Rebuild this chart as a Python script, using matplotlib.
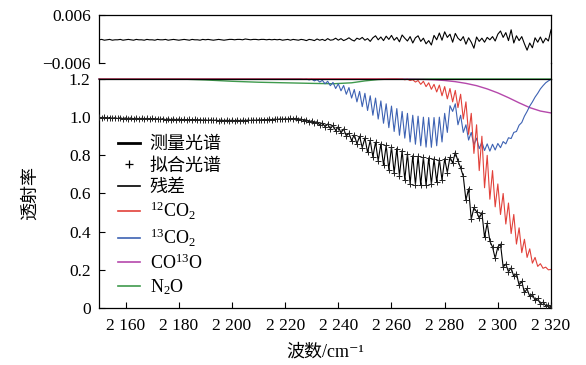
import numpy as np
import matplotlib
matplotlib.use('Agg')
import matplotlib.pyplot as plt
from matplotlib.lines import Line2D

plt.rcParams['font.family'] = ['Liberation Serif', 'Noto Sans CJK SC', 'DejaVu Sans']
plt.rcParams['mathtext.default'] = 'regular'

# measured transmittance, one value per cm-1 from 2150 to 2320
measured = [
    0.998, 0.995, 0.999, 0.994, 0.998, 0.994, 0.997, 0.993, 0.997, 0.992,
    0.996, 0.992, 0.996, 0.991, 0.995, 0.991, 0.994, 0.990, 0.994, 0.989,
    0.993, 0.989, 0.992, 0.988, 0.992, 0.987, 0.991, 0.987, 0.990, 0.986,
    0.990, 0.986, 0.989, 0.985, 0.988, 0.985, 0.988, 0.984, 0.987, 0.984,
    0.986, 0.983, 0.986, 0.983, 0.985, 0.982, 0.985, 0.982, 0.984, 0.982,
    0.984, 0.982, 0.984, 0.982, 0.984, 0.982, 0.985, 0.983, 0.985, 0.984,
    0.986, 0.985, 0.987, 0.986, 0.989, 0.987, 0.990, 0.988, 0.991, 0.989,
    0.992, 0.989, 0.993, 0.990, 0.994, 0.986, 0.991, 0.982, 0.987, 0.975,
    0.981, 0.968, 0.976, 0.958, 0.971, 0.950, 0.964, 0.940, 0.957, 0.930,
    0.950, 0.918, 0.938, 0.902, 0.916, 0.877, 0.908, 0.860, 0.900, 0.840,
    0.891, 0.815, 0.878, 0.792, 0.869, 0.771, 0.860, 0.749, 0.853, 0.725,
    0.845, 0.707, 0.836, 0.692, 0.825, 0.673, 0.809, 0.650, 0.798, 0.647,
    0.795, 0.644, 0.791, 0.643, 0.787, 0.648, 0.782, 0.660, 0.779, 0.670,
    0.782, 0.710, 0.790, 0.760, 0.815, 0.770, 0.735, 0.690, 0.565, 0.625,
    0.465, 0.525, 0.505, 0.470, 0.500, 0.370, 0.445, 0.350, 0.320, 0.260,
    0.320, 0.335, 0.215, 0.230, 0.190, 0.210, 0.165, 0.180, 0.120, 0.140,
    0.080, 0.100, 0.060, 0.072, 0.040, 0.050, 0.022, 0.030, 0.012, 0.016,
    0.005,
]

# residual (measured - fit), same grid
residual = [
    -0.0002, -0.0001, -0.0003, -0.0002, -0.0001, -0.0003, -0.0002, -0.0002, -0.0001, -0.0003,
    -0.0002, -0.0001, -0.0002, -0.0003, -0.0001, -0.0002, -0.0002, -0.0003, -0.0001, -0.0002,
    -0.0002, -0.0003, -0.0001, -0.0002, -0.0002, -0.0001, -0.0003, -0.0002, -0.0001, -0.0002,
    -0.0003, -0.0002, -0.0001, -0.0002, -0.0003, -0.0001, -0.0002, -0.0002, -0.0003, -0.0001,
    -0.0002, -0.0001, -0.0002, -0.0003, -0.0002, -0.0001, -0.0002, -0.0003, -0.0002, -0.0001,
    -0.0001, -0.0002, -0.0001, -0.0001, -0.0002, 0.0000, -0.0001, -0.0002, -0.0001, -0.0001,
    -0.0002, -0.0001, -0.0001, -0.0002, -0.0001, -0.0002, -0.0001, -0.0002, -0.0001, -0.0003,
    -0.0002, -0.0001, -0.0003, -0.0001, -0.0002, -0.0003, -0.0001, -0.0002, -0.0004, -0.0001,
    -0.0002, -0.0004, 0.0000, -0.0003, -0.0001, -0.0004, 0.0001, -0.0003, -0.0002, 0.0002,
    -0.0003, 0.0001, -0.0004, -0.0001, 0.0003, -0.0002, -0.0005, 0.0002, -0.0001, 0.0004,
    -0.0003, 0.0001, -0.0006, 0.0003, 0.0008, -0.0002, 0.0005, -0.0004, 0.0007, -0.0001,
    0.0009, -0.0003, 0.0004, -0.0007, 0.0010, 0.0002, -0.0005, 0.0006, -0.0010, 0.0003,
    0.0008, -0.0006, 0.0002, -0.0012, -0.0004, -0.0015, 0.0009, -0.0002, 0.0015, -0.0003,
    0.0018, 0.0004, 0.0012, -0.0008, 0.0014, 0.0002, -0.0004, 0.0006, -0.0013, 0.0003,
    -0.0008, -0.0023, 0.0005, -0.0006, 0.0002, -0.0008, 0.0004, -0.0002, 0.0006, -0.0005,
    0.0012, 0.0020, 0.0004, 0.0016, -0.0004, 0.0023, -0.0010, 0.0008, -0.0004, 0.0006,
    -0.0012, -0.0028, -0.0010, -0.0022, 0.0003, -0.0008, 0.0005, -0.0010, 0.0002, -0.0005,
    0.0023,
]

# 12CO2 component (offset spectrum), one value per cm-1 from 2262
co2_12 = [
    1.200, 1.199, 1.200, 1.196, 1.199, 1.192, 1.196, 1.184, 1.192, 1.172,
    1.188, 1.160, 1.180, 1.146, 1.172, 1.132, 1.168, 1.112, 1.160, 1.096,
    1.150, 1.080, 1.140, 1.050, 1.120, 0.990, 1.080, 0.910, 1.020, 0.810,
    0.960, 0.720, 0.900, 0.630, 0.800, 0.570, 0.720, 0.530, 0.650, 0.490,
    0.600, 0.440, 0.550, 0.390, 0.490, 0.335, 0.420, 0.290, 0.360, 0.265,
    0.310, 0.235, 0.265, 0.218, 0.232, 0.208, 0.214, 0.200, 0.202,
]

# 13CO2 component, one value per cm-1 from 2226
co2_13 = [
    1.200, 1.198, 1.200, 1.195, 1.199, 1.190, 1.197, 1.184, 1.193, 1.175,
    1.188, 1.165, 1.182, 1.150, 1.175, 1.138, 1.166, 1.120, 1.155, 1.100,
    1.145, 1.080, 1.135, 1.055, 1.125, 1.035, 1.112, 1.010, 1.100, 0.990,
    1.085, 0.968, 1.070, 0.945, 1.058, 0.925, 1.045, 0.905, 1.030, 0.890,
    1.020, 0.870, 1.010, 0.858, 1.005, 0.850, 1.000, 0.843, 0.998, 0.842,
    0.998, 0.850, 1.000, 0.870, 1.020, 0.920, 1.060, 1.030, 1.070, 0.960,
    1.010, 0.920, 0.960, 0.880, 0.920, 0.855, 0.890, 0.835, 0.870, 0.825,
    0.860, 0.822, 0.858, 0.828, 0.862, 0.840, 0.872, 0.860, 0.892, 0.888,
    0.920, 0.925, 0.958, 0.972, 1.005, 1.030, 1.058, 1.080, 1.105, 1.125,
    1.148, 1.165, 1.180, 1.190, 1.198,
]

# CO13O component
wn_co13o = [2150, 2262, 2268, 2272, 2276, 2280, 2284, 2288, 2292, 2296,
            2300, 2304, 2308, 2312, 2316, 2320]
co13o = [1.200, 1.200, 1.199, 1.198, 1.196, 1.192, 1.186, 1.177, 1.165, 1.148,
         1.127, 1.102, 1.075, 1.050, 1.032, 1.022]

# N2O component
wn_n2o = [2150, 2180, 2190, 2200, 2210, 2220, 2230, 2238, 2245, 2250, 2255, 2260, 2320]
n2o = [1.200, 1.200, 1.195, 1.188, 1.183, 1.180, 1.177, 1.175, 1.180, 1.190,
       1.197, 1.200, 1.200]

xticks = [2160, 2180, 2200, 2220, 2240, 2260, 2280, 2300, 2320]
xtick_labels = ['2 160', '2 180', '2 200', '2 220', '2 240', '2 260', '2 280', '2 300', '2 320']
yticks = [0, 0.2, 0.4, 0.6, 0.8, 1.0, 1.2]
ytick_labels = ['0', '0.2', '0.4', '0.6', '0.8', '1.0', '1.2']

wn = 2150 + np.arange(len(measured))
fit = np.array(measured) - np.array(residual)
wn_12 = np.concatenate(([2150], 2262 + np.arange(len(co2_12))))
val_12 = np.concatenate(([1.2], co2_12))
wn_13 = np.concatenate(([2150], 2226 + np.arange(len(co2_13))))
val_13 = np.concatenate(([1.2], co2_13))

c_red = '#e2413a'
c_blue = '#3d62b3'
c_purple = '#b548ab'
c_green = '#3f9a4d'

fig = plt.figure(figsize=(5.86, 3.65), dpi=100)
ax_r = fig.add_axes([0.169, 0.8274, 0.7713, 0.1315])
ax = fig.add_axes([0.169, 0.1562, 0.7713, 0.6274])

# residual panel
ax_r.plot(wn, residual, color='k', lw=0.8)
ax_r.set_xlim(2150, 2320)
ax_r.set_ylim(-0.006, 0.006)
ax_r.set_xticks([])
ax_r.set_yticks([-0.006, 0.006])
ax_r.set_yticklabels(['\u22120.006', '0.006'])
ax_r.spines['bottom'].set_visible(False)
ax_r.tick_params(direction='in', length=4, width=0.8, labelsize=12.5, pad=6)

# spectra panel
ax.plot(wn, measured, color='k', lw=0.8, zorder=3)
ax.plot(wn, fit, ls='none', marker='+', ms=4.5, mew=0.7, color='#222222', zorder=4)
ax.plot(wn_n2o, n2o, color=c_green, lw=1.0, clip_on=False, zorder=2)
ax.plot(wn_co13o, co13o, color=c_purple, lw=1.0, clip_on=False, zorder=2)
ax.plot(wn_13, val_13, color=c_blue, lw=0.8, clip_on=False, zorder=2)
ax.plot(wn_12, val_12, color=c_red, lw=0.8, clip_on=False, zorder=2)

ax.set_xlim(2150, 2320)
ax.set_ylim(0, 1.2)
ax.set_xticks(xticks)
ax.set_xticklabels(xtick_labels)
ax.set_yticks(yticks)
ax.set_yticklabels(ytick_labels)
ax.tick_params(direction='in', length=4, width=0.8, labelsize=12.5, pad=6)
ax.tick_params(axis='x', pad=7)

for a in (ax, ax_r):
    for s in a.spines.values():
        s.set_linewidth(0.9)

# right border runs on between the two panels
fig.add_artist(Line2D([0.9403, 0.9403], [0.7836, 0.8274], transform=fig.transFigure,
                      color='k', lw=0.9))

ax.set_ylabel('透射率', fontsize=13)
ax.yaxis.set_label_coords(-0.133, 0.5)
ax.set_xlabel('波数/cm\u207b\u00b9', fontsize=13, labelpad=7)

handles = [
    Line2D([], [], color='k', lw=2.0),
    Line2D([], [], ls='none', marker='+', color='k', ms=6, mew=0.9),
    Line2D([], [], color='k', lw=1.2),
    Line2D([], [], color=c_red, lw=1.2),
    Line2D([], [], color=c_blue, lw=1.2),
    Line2D([], [], color=c_purple, lw=1.2),
    Line2D([], [], color=c_green, lw=1.2),
]
labels = ['测量光谱', '拟合光谱', '残差', '$^{12}$CO$_2$', '$^{13}$CO$_2$',
          'CO$^{13}$O', 'N$_2$O']
ax.legend(handles, labels, loc='upper left', bbox_to_anchor=(0.042, 0.75),
          frameon=False, fontsize=13, handlelength=1.2, handletextpad=0.55,
          labelspacing=0.24, borderpad=0, borderaxespad=0)

fig.savefig('out.png', dpi=100)
